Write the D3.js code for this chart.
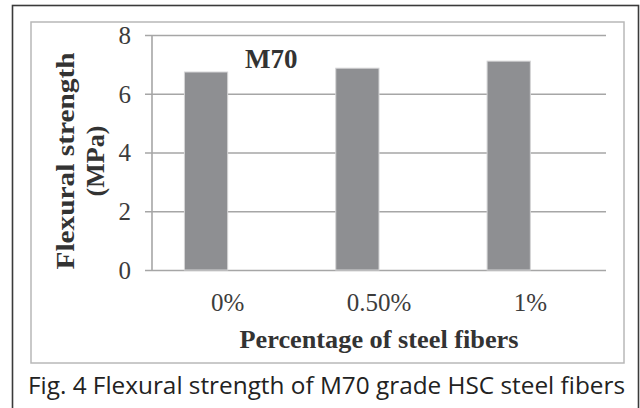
<!DOCTYPE html>
<html>
<head>
<meta charset="utf-8">
<script src="https://cdn.jsdelivr.net/npm/d3@7"></script>
<style>
  body { margin: 0; background: #fff; }
  svg { display: block; }
</style>
</head>
<body>
<div id="chart"></div>
<script>
// chart data
const categories = ["0%", "0.50%", "1%"];
const strength = [6.74, 6.87, 7.11];
const yTicks = [0, 2, 4, 6, 8];
const seriesName = "M70";
const xTitle = "Percentage of steel fibers";
const yTitle = ["Flexural strength", "(MPa)"];
const caption = "Fig. 4 Flexural strength of M70 grade HSC steel fibers";

const W = 640, H = 408;
const plot = { left: 152, right: 606, top: 35, bottom: 270 };

const svg = d3.select("#chart").append("svg")
    .attr("width", W)
    .attr("height", H);

svg.append("rect").attr("width", W).attr("height", H).attr("fill", "#fff");

// outer frame (runs off the bottom)
svg.append("rect")
    .attr("x", 12.5).attr("y", 5.5)
    .attr("width", 626).attr("height", 430)
    .attr("fill", "none")
    .attr("stroke", "#3a3a3a")
    .attr("stroke-width", 1.6);

// chart area border
svg.append("rect")
    .attr("x", 31).attr("y", 22)
    .attr("width", 593).attr("height", 341)
    .attr("fill", "none")
    .attr("stroke", "#b8b8b8")
    .attr("stroke-width", 1.5);

const x = d3.scaleBand()
    .domain(categories)
    .range([plot.left, plot.right])
    .padding(0);

// two slots per category like excel clustered bars, only first one used
const xs = d3.scaleBand()
    .domain([0, 1])
    .range([0, x.bandwidth()])
    .paddingInner(0)
    .paddingOuter(0.75);

const y = d3.scaleLinear()
    .domain([0, 8])
    .range([plot.bottom, plot.top]);

// gridlines + y axis
const yAxis = d3.axisLeft(y)
    .tickValues(yTicks)
    .tickSize(-(plot.right - plot.left) - 7)
    .tickPadding(14)
    .tickFormat(d3.format("d"));

const gy = svg.append("g")
    .attr("transform", "translate(" + plot.right + ",0)")
    .call(yAxis);
gy.select(".domain").remove();
gy.selectAll(".tick line")
    .attr("x1", 0)
    .attr("x2", -(plot.right - plot.left) - 7)
    .attr("stroke", "#a6a6a6")
    .attr("stroke-width", 1.6);
gy.selectAll(".tick text").remove();

svg.append("g")
    .selectAll("text")
    .data(yTicks)
    .enter()
    .append("text")
    .attr("x", 131)
    .attr("y", d => y(d))
    .attr("dy", "0.35em")
    .attr("text-anchor", "end")
    .attr("font-family", "Liberation Serif")
    .attr("font-size", 25)
    .attr("fill", "#3c3c3c")
    .text(d => d);

// vertical axis line
svg.append("line")
    .attr("x1", plot.left).attr("x2", plot.left)
    .attr("y1", y(8)).attr("y2", y(0))
    .attr("stroke", "#a6a6a6")
    .attr("stroke-width", 1.6);

// bars
svg.append("g")
    .selectAll("rect")
    .data(strength)
    .enter()
    .append("rect")
    .attr("x", (d, i) => x(categories[i]) + xs(0))
    .attr("y", d => y(d))
    .attr("width", xs.bandwidth())
    .attr("height", d => y(0) - y(d))
    .attr("fill", "#8e8f92")
    .attr("stroke", "#d4d4d6")
    .attr("stroke-width", 1);

// category labels
svg.append("g")
    .selectAll("text")
    .data(categories)
    .enter()
    .append("text")
    .attr("x", d => x(d) + x.bandwidth() / 2)
    .attr("y", 311)
    .attr("text-anchor", "middle")
    .attr("font-family", "Liberation Serif")
    .attr("font-size", 25)
    .attr("fill", "#3c3c3c")
    .text(d => d);

// x title
svg.append("text")
    .attr("x", (plot.left + plot.right) / 2)
    .attr("y", 348)
    .attr("text-anchor", "middle")
    .attr("font-family", "Liberation Serif")
    .attr("font-weight", "bold")
    .attr("font-size", 25)
    .attr("fill", "#333")
    .attr("textLength", 279)
    .attr("lengthAdjust", "spacingAndGlyphs")
    .text(xTitle);

// y title, two lines rotated
const yt = svg.append("text")
    .attr("transform", "translate(0,161) rotate(-90)")
    .attr("text-anchor", "middle")
    .attr("font-family", "Liberation Serif")
    .attr("font-weight", "bold")
    .attr("font-size", 26)
    .attr("fill", "#333");
yt.append("tspan").attr("x", 0).attr("y", 74)
    .attr("textLength", 217).attr("lengthAdjust", "spacingAndGlyphs")
    .text(yTitle[0]);
yt.append("tspan").attr("x", 0).attr("y", 104).text(yTitle[1]);

// series label inside plot
svg.append("text")
    .attr("x", 245)
    .attr("y", 68)
    .attr("font-family", "Liberation Serif")
    .attr("font-weight", "bold")
    .attr("font-size", 27)
    .attr("fill", "#333")
    .text(seriesName);

// caption
svg.append("text")
    .attr("x", 28)
    .attr("y", 394)
    .attr("font-family", "Open Sans")
    .attr("font-size", 23)
    .attr("fill", "#222")
    .attr("textLength", 597)
    .attr("lengthAdjust", "spacingAndGlyphs")
    .text(caption);
</script>
</body>
</html>
